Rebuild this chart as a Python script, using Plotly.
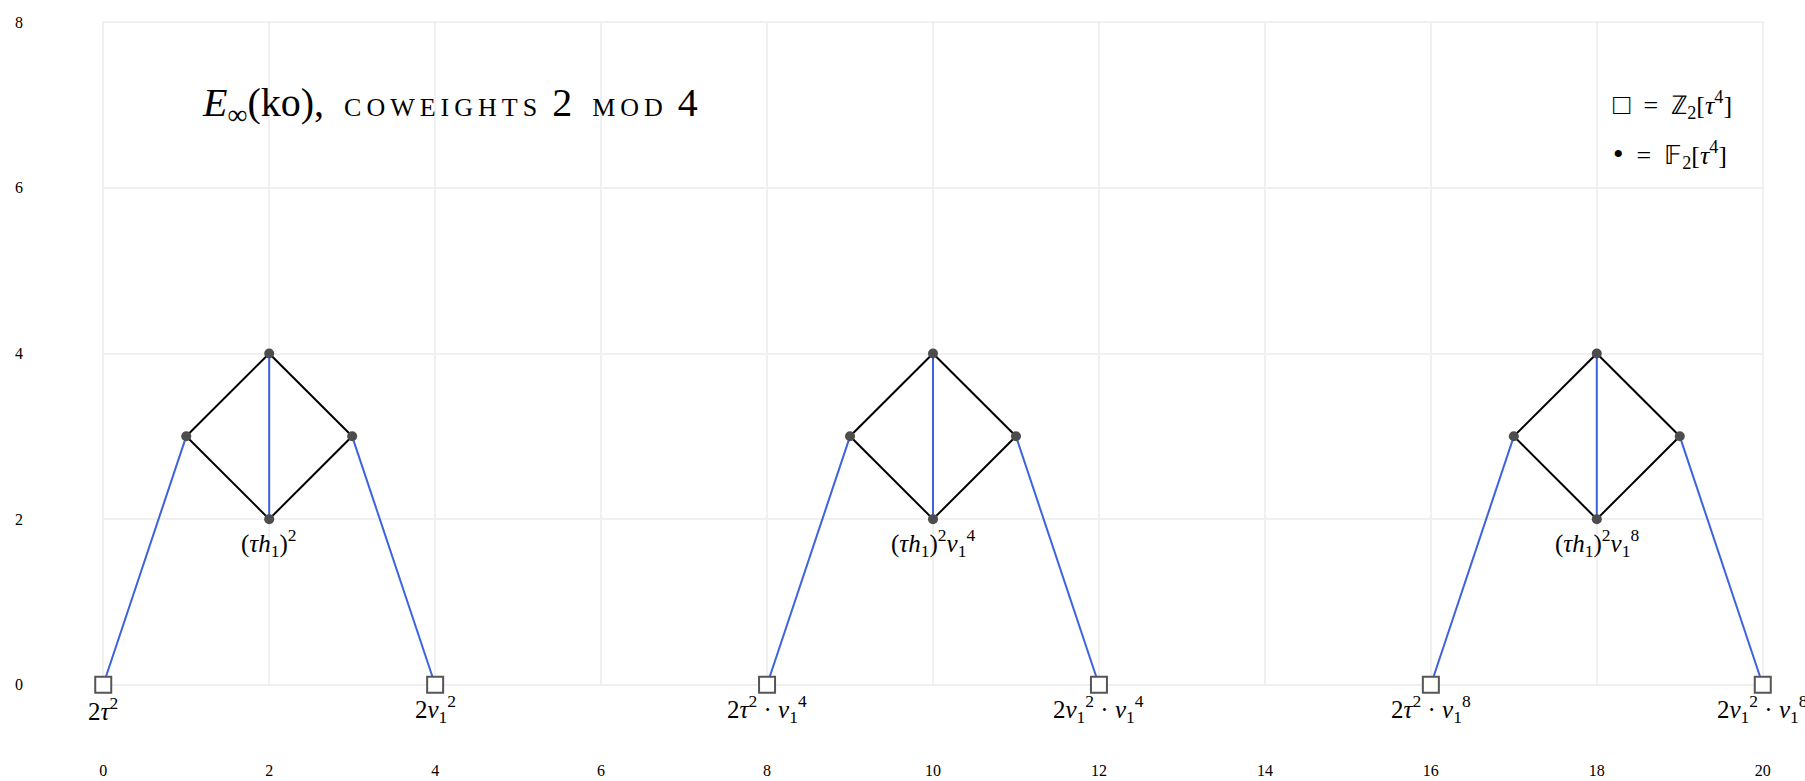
import plotly.graph_objects as go

# ---- data ----
block_offsets = [0, 8, 16]
square_x = [0, 4, 8, 12, 16, 20]
square_y = [0, 0, 0, 0, 0, 0]
dot_base_x = [1, 2, 3, 2]
dot_base_y = [3, 4, 3, 2]
blue_base = [((0, 0), (1, 3)), ((3, 3), (4, 0)), ((2, 2), (2, 4))]
black_base = [((1, 3), (2, 4)), ((2, 4), (3, 3)), ((3, 3), (2, 2)), ((2, 2), (1, 3))]

label_x = [0, 2, 4, 8, 10, 12, 16, 18, 20]
label_y = [0, 2, 0, 0, 2, 0, 0, 2, 0]
label_text = [
    "2<i>τ</i><sup>2</sup>",
    "(<i>τh</i><sub>1</sub>)<sup>2</sup>",
    "2<i>v</i><sub>1</sub><sup>2</sup>",
    "2<i>τ</i><sup>2</sup> · <i>v</i><sub>1</sub><sup>4</sup>",
    "(<i>τh</i><sub>1</sub>)<sup>2</sup><i>v</i><sub>1</sub><sup>4</sup>",
    "2<i>v</i><sub>1</sub><sup>2</sup> · <i>v</i><sub>1</sub><sup>4</sup>",
    "2<i>τ</i><sup>2</sup> · <i>v</i><sub>1</sub><sup>8</sup>",
    "(<i>τh</i><sub>1</sub>)<sup>2</sup><i>v</i><sub>1</sub><sup>8</sup>",
    "2<i>v</i><sub>1</sub><sup>2</sup> · <i>v</i><sub>1</sub><sup>8</sup>",
]
x_ticks = list(range(0, 21, 2))
y_ticks = [0, 2, 4, 6, 8]

SC = "<span style='font-size:26px;letter-spacing:5px'>"
title_text = ("<i>E</i><sub>∞</sub>(ko),&nbsp;&nbsp;" + SC + "COWEIGHTS</span>&nbsp;2&nbsp;&nbsp;"
              + SC + "MOD</span>&nbsp;4")
legend_texts = ["<span style='font-size:29px'>□</span>&nbsp;&nbsp;=&nbsp;&nbsp;ℤ<sub>2</sub>[<i>τ</i><sup>4</sup>]",
                "<span style='font-size:30px'>•</span>&nbsp;&nbsp;=&nbsp;&nbsp;𝔽<sub>2</sub>[<i>τ</i><sup>4</sup>]"]
legend_x = [18.17, 18.17]
legend_y = [7.0, 6.4]

BLUE = "#3b63e0"
SERIF = "Liberation Serif"

fig = go.Figure()

def seg_xy(base):
    xs, ys = [], []
    for off in block_offsets:
        for (a, b) in base:
            xs += [a[0] + off, b[0] + off, None]
            ys += [a[1], b[1], None]
    return xs, ys

bx, by = seg_xy(blue_base)
fig.add_trace(go.Scatter(x=bx, y=by, mode="lines", line=dict(color=BLUE, width=2), hoverinfo="skip"))
kx, ky = seg_xy(black_base)
fig.add_trace(go.Scatter(x=kx, y=ky, mode="lines", line=dict(color="black", width=2), hoverinfo="skip"))

dx = [x + off for off in block_offsets for x in dot_base_x]
dy = [y for off in block_offsets for y in dot_base_y]
fig.add_trace(go.Scatter(x=dx, y=dy, mode="markers",
                         marker=dict(symbol="circle", size=10, color="#4d4d4d", line=dict(width=0))))
fig.add_trace(go.Scatter(x=square_x, y=square_y, mode="markers",
                         marker=dict(symbol="square", size=16, color="white",
                                     line=dict(color="#555555", width=2)),
                         cliponaxis=False))

for x, y, t in zip(label_x, label_y, label_text):
    fig.add_annotation(x=x, y=y, text=t, showarrow=False, xanchor="center", yanchor="middle",
                       yshift=-24, font=dict(family=SERIF, size=25, color="black"))

fig.add_annotation(x=1.17, y=7.0, text=title_text, showarrow=False, xanchor="left", yanchor="middle",
                   font=dict(family=SERIF, size=40, color="black"))
for x, y, t in zip(legend_x, legend_y, legend_texts):
    fig.add_annotation(x=x, y=y, text=t, showarrow=False, xanchor="left", yanchor="middle",
                       font=dict(family=SERIF, size=26, color="black"))

fig.update_layout(
    width=1805, height=781,
    margin=dict(l=102, r=41, t=21, b=95),
    plot_bgcolor="white", paper_bgcolor="white",
    showlegend=False, hovermode=False,
)
fig.update_xaxes(range=[-0.015, 20.015], tickvals=x_ticks, showgrid=True, gridcolor="#f0f0f0", gridwidth=1.5,
                 zeroline=False, showline=False, ticks="", ticklabelstandoff=73, automargin=False,
                 tickfont=dict(family=SERIF, size=16, color="black"))
fig.update_yaxes(range=[-0.015, 8.015], tickvals=y_ticks, showgrid=True, gridcolor="#f0f0f0", gridwidth=1.5,
                 zeroline=False, showline=False, ticks="", ticklabelstandoff=78, automargin=False,
                 tickfont=dict(family=SERIF, size=16, color="black"))

fig.write_html("out.html", config={"displayModeBar": False},
               post_script="document.body.style.margin='0';document.body.style.overflow='hidden';")
